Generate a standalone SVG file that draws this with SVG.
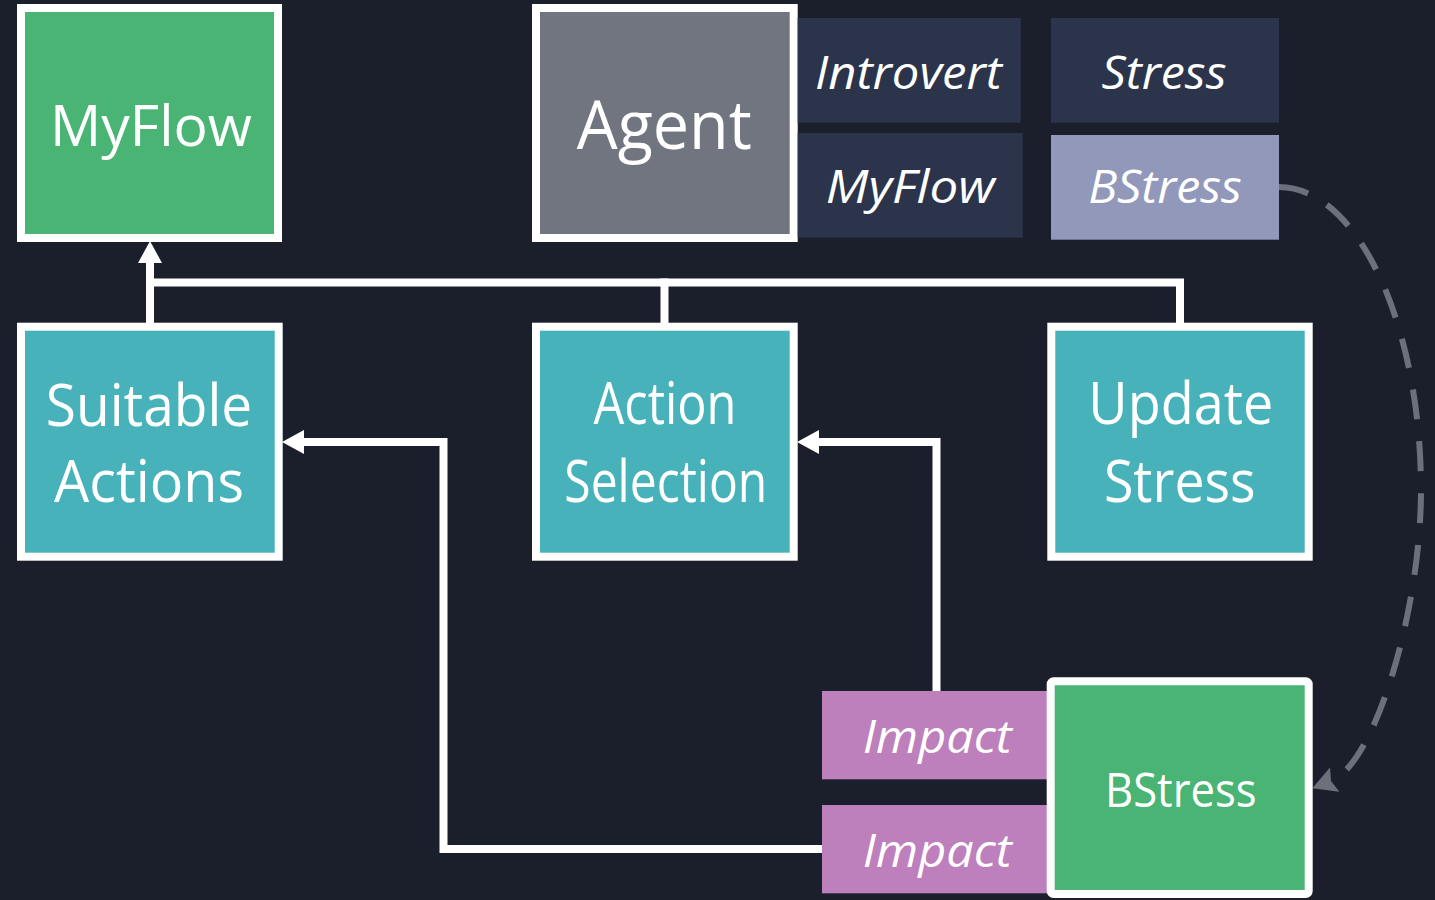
<svg xmlns="http://www.w3.org/2000/svg" width="1435" height="900" viewBox="0 0 1435 900">
  <defs>
    <style>
      .box { stroke: #ffffff; stroke-width: 8; }
      .green { fill: #49b474; }
      .teal { fill: #48b2bb; }
      .agent { fill: #71757f; }
      .attr { fill: #2b344b; }
      .attr-hl { fill: #9198ba; }
      .impact { fill: #bd80bc; }
      text { font-family: "Open Sans", "Noto Sans", "DejaVu Sans", sans-serif; fill: #ffffff; text-anchor: middle; }
      .it { font-style: italic; }
      .wire { fill: none; stroke: #ffffff; stroke-width: 8; stroke-linejoin: miter; }
      .dash { fill: none; stroke: #6c707b; stroke-width: 6; stroke-dasharray: 30 22; }
    </style>
    <marker id="head" viewBox="0 0 22 24" refX="0" refY="12" markerWidth="22" markerHeight="24" markerUnits="userSpaceOnUse" orient="auto">
      <path d="M0,0 L22,12 L0,24 Z" fill="#ffffff"/>
    </marker>
    <marker id="head-grey" viewBox="0 0 24 26" refX="4" refY="13" markerWidth="24" markerHeight="26" markerUnits="userSpaceOnUse" orient="auto">
      <path d="M0,0 L24,13 L0,26 L4,13 Z" fill="#6c707b"/>
    </marker>
  </defs>

  <rect width="1435" height="900" fill="#1b1f2c"/>

  <!-- connectors -->
  <g id="connectors">
    <path class="wire" d="M150,323 V263" marker-end="url(#head)"/>
    <path class="wire" d="M664.5,323 V282.5 H146"/>
    <path class="wire" d="M1180,323 V282.5 H660"/>
    <path class="wire" d="M936.5,691 V442 H819" marker-end="url(#head)"/>
    <path class="wire" d="M822,849 H443.5 V442 H304" marker-end="url(#head)"/>
    <path class="dash" d="M1279,187 C1357,187 1421,323 1421,490 C1421,610 1375,764 1331,781" marker-end="url(#head-grey)"/>
  </g>

  <g id="myflow">
    <rect class="box green" x="21" y="8" width="257" height="230"/>
    <text x="151" y="145.7" font-size="57" textLength="202" lengthAdjust="spacingAndGlyphs">MyFlow</text>
  </g>

  <g id="agent">
    <rect class="box agent" x="536" y="8" width="257.7" height="230"/>
    <text x="664.3" y="149" font-size="68" textLength="175" lengthAdjust="spacingAndGlyphs">Agent</text>
  </g>

  <g id="attr-introvert">
    <rect class="attr" x="797.7" y="18" width="223" height="104.7"/>
    <text class="it" x="908.4" y="89" font-size="45" textLength="187" lengthAdjust="spacingAndGlyphs">Introvert</text>
  </g>

  <g id="attr-myflow">
    <rect class="attr" x="797.7" y="133" width="225" height="104.7"/>
    <text class="it" x="910.3" y="203.3" font-size="45" textLength="169" lengthAdjust="spacingAndGlyphs">MyFlow</text>
  </g>

  <g id="attr-stress">
    <rect class="attr" x="1051" y="18" width="228" height="104.7"/>
    <text class="it" x="1164" y="89" font-size="45" textLength="125" lengthAdjust="spacingAndGlyphs">Stress</text>
  </g>

  <g id="attr-bstress">
    <rect class="attr-hl" x="1051" y="135" width="228" height="104.7"/>
    <text class="it" x="1165" y="203.3" font-size="45" textLength="153.7" lengthAdjust="spacingAndGlyphs">BStress</text>
  </g>

  <g id="suitable-actions">
    <rect class="box teal" x="21" y="326.7" width="257.7" height="230"/>
    <text x="149" y="425.7" font-size="58" textLength="206.6" lengthAdjust="spacingAndGlyphs">Suitable</text>
    <text x="149" y="502.3" font-size="58" textLength="190" lengthAdjust="spacingAndGlyphs">Actions</text>
  </g>

  <g id="action-selection">
    <rect class="box teal" x="536" y="326.7" width="257.7" height="230"/>
    <text x="665" y="424.3" font-size="58" textLength="143" lengthAdjust="spacingAndGlyphs">Action</text>
    <text x="665.8" y="501.7" font-size="58" textLength="203" lengthAdjust="spacingAndGlyphs">Selection</text>
  </g>

  <g id="update-stress">
    <rect class="box teal" x="1051.3" y="326.7" width="257.4" height="230"/>
    <text x="1180.8" y="424.3" font-size="58" textLength="185" lengthAdjust="spacingAndGlyphs">Update</text>
    <text x="1179.8" y="501.7" font-size="58" textLength="151.7" lengthAdjust="spacingAndGlyphs">Stress</text>
  </g>

  <g id="impact-1">
    <rect class="impact" x="822" y="691" width="226" height="88.3"/>
    <text class="it" x="937.2" y="753.3" font-size="46.5" textLength="149" lengthAdjust="spacingAndGlyphs">Impact</text>
  </g>

  <g id="impact-2">
    <rect class="impact" x="822" y="805" width="226" height="88.3"/>
    <text class="it" x="937.2" y="866.7" font-size="46.5" textLength="149" lengthAdjust="spacingAndGlyphs">Impact</text>
  </g>

  <g id="bstress">
    <rect class="box green" x="1050.7" y="681.3" width="258" height="212.7" rx="3"/>
    <text x="1180.8" y="806.7" font-size="47" textLength="151.7" lengthAdjust="spacingAndGlyphs">BStress</text>
  </g>
</svg>
